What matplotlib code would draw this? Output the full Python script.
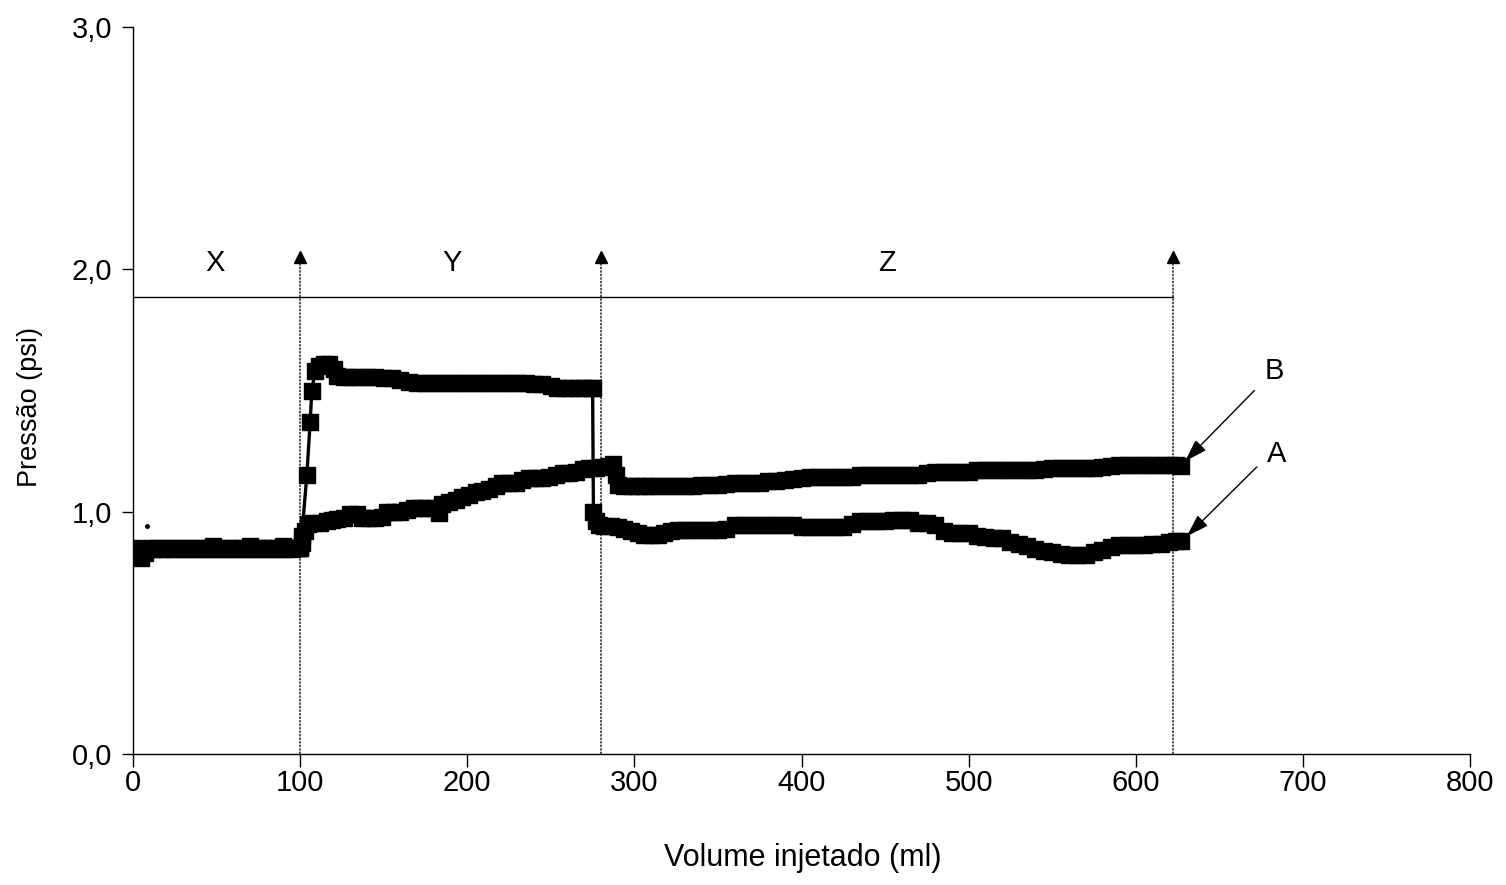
import matplotlib
matplotlib.use("Agg")
import matplotlib.pyplot as plt

plt.rcParams['font.family'] = ['Liberation Sans', 'DejaVu Sans']

# ---------------- data ----------------
# Series A (upper plateau in Y, lower curve in Z)
xa = [0, 3, 5, 7, 10, 15, 20, 25, 30, 35, 40, 45, 48, 52, 57, 62, 66, 70, 74, 78, 82, 86, 90, 94, 98, 100,
      101, 104, 106, 107, 109, 111, 114, 117, 120, 122, 126, 130, 135, 140, 145, 150, 155, 160, 165, 170,
      175, 180, 185, 190, 195, 200, 205, 210, 215, 220, 225, 230, 235, 240, 245, 250, 254, 258, 262, 266,
      270, 274, 275, 275.5, 277, 279, 282, 286, 290, 294, 298, 302, 306, 310, 314, 318, 322, 326, 330, 335,
      340, 345, 350, 355, 360, 365, 370, 375, 380, 385, 390, 395, 400, 405, 410, 415, 420, 425, 430, 435,
      440, 445, 450, 455, 460, 465, 470, 475, 480, 485, 490, 495, 500, 505, 510, 515, 520, 525, 530, 535,
      540, 545, 550, 555, 560, 565, 570, 575, 580, 585, 590, 595, 600, 605, 610, 615, 620, 624, 627]
ya = [0.85, 0.84, 0.81, 0.83, 0.85, 0.85, 0.85, 0.85, 0.85, 0.85, 0.85, 0.85, 0.86, 0.85, 0.85, 0.85, 0.85,
      0.86, 0.85, 0.85, 0.85, 0.85, 0.86, 0.85, 0.85, 0.85,
      0.90, 1.15, 1.37, 1.50, 1.58, 1.60, 1.61, 1.61, 1.59, 1.56, 1.555, 1.555, 1.555, 1.555, 1.555, 1.55,
      1.55, 1.545, 1.535, 1.53, 1.53, 1.53, 1.53, 1.53, 1.53, 1.53, 1.53, 1.53, 1.53, 1.53, 1.53, 1.53,
      1.53, 1.525, 1.525, 1.52, 1.51, 1.51, 1.51, 1.51, 1.51, 1.51, 1.51, 1.00, 0.96, 0.945, 0.94, 0.94,
      0.935, 0.93, 0.92, 0.91, 0.905, 0.905, 0.905, 0.91, 0.92, 0.926, 0.926, 0.926, 0.926, 0.926, 0.926,
      0.93, 0.945, 0.946, 0.946, 0.946, 0.946, 0.946, 0.946, 0.946, 0.935, 0.935, 0.935, 0.935, 0.935,
      0.935, 0.95, 0.962, 0.963, 0.963, 0.963, 0.965, 0.967, 0.967, 0.955, 0.952, 0.945, 0.92, 0.913,
      0.913, 0.91, 0.90, 0.895, 0.893, 0.89, 0.875, 0.868, 0.86, 0.845, 0.838, 0.835, 0.825, 0.82, 0.82,
      0.82, 0.835, 0.84, 0.855, 0.864, 0.864, 0.864, 0.864, 0.866, 0.866, 0.875, 0.88, 0.88]

# Series B (lower, rising curve in Y, upper curve in Z)
xb = [0, 4, 8, 12, 16, 20, 25, 30, 35, 40, 45, 50, 55, 60, 65, 70, 75, 80, 85, 90, 95, 100,
      101, 103, 105, 108, 112, 116, 119, 122, 126, 130, 134, 137, 141, 145, 149, 152, 156, 160, 164, 168,
      172, 176, 180, 183, 185, 189, 193, 197, 201, 205, 209, 213, 217, 221, 225, 229, 233, 237, 241, 245,
      249, 253, 257, 261, 265, 269, 273, 277, 281, 285, 287, 289, 290, 294, 298, 302, 306, 310, 315, 320,
      325, 330, 335, 340, 345, 350, 355, 360, 365, 370, 375, 380, 385, 390, 395, 400, 405, 410, 415, 420,
      425, 430, 435, 440, 445, 450, 455, 460, 465, 470, 475, 480, 485, 490, 495, 500, 505, 510, 515, 520,
      525, 530, 535, 540, 545, 550, 555, 560, 565, 570, 575, 580, 585, 590, 595, 600, 605, 610, 615, 620,
      624, 627]
yb = [0.845, 0.84, 0.845, 0.845, 0.845, 0.845, 0.845, 0.845, 0.845, 0.845, 0.845, 0.845, 0.845, 0.845,
      0.845, 0.845, 0.845, 0.845, 0.845, 0.845, 0.845, 0.85,
      0.87, 0.92, 0.95, 0.955, 0.955, 0.96, 0.965, 0.97, 0.975, 0.99, 0.99, 0.975, 0.975, 0.975, 0.98,
      1.0, 1.0, 1.0, 1.005, 1.014, 1.014, 1.014, 1.014, 0.995, 1.03, 1.04, 1.05, 1.06, 1.07, 1.08, 1.085,
      1.095, 1.105, 1.118, 1.118, 1.12, 1.13, 1.14, 1.14, 1.14, 1.145, 1.15, 1.16, 1.16, 1.165, 1.175,
      1.18, 1.18, 1.185, 1.19, 1.195, 1.15, 1.11, 1.107, 1.107, 1.107, 1.107, 1.107, 1.107, 1.107, 1.107,
      1.107, 1.107, 1.11, 1.11, 1.11, 1.115, 1.12, 1.12, 1.12, 1.12, 1.125, 1.125, 1.13, 1.135, 1.14,
      1.143, 1.143, 1.143, 1.143, 1.143, 1.145, 1.15, 1.15, 1.15, 1.15, 1.151, 1.151, 1.151, 1.151, 1.158,
      1.163, 1.163, 1.163, 1.163, 1.165, 1.17, 1.17, 1.17, 1.17, 1.17, 1.17, 1.17, 1.172, 1.175, 1.18,
      1.18, 1.18, 1.18, 1.18, 1.18, 1.185, 1.19, 1.192, 1.192, 1.192, 1.192, 1.192, 1.192, 1.192, 1.192,
      1.19]

stray_x = [8.4]
stray_y = [0.94]

x_ticks = [0, 100, 200, 300, 400, 500, 600, 700, 800]
y_ticks = [0.0, 1.0, 2.0, 3.0]
y_tick_labels = ["0,0", "1,0", "2,0", "3,0"]

boundaries = [100, 280, 622]          # vertical arrows separating the stages
stage_line_y = 1.885                  # horizontal line
arrow_top = 2.05
stage_names = ["X", "Y", "Z"]
stage_label_x = [49, 191, 451]
stage_label_y = 2.025

# ---------------- figure ----------------
fig = plt.figure(figsize=(15.06, 8.85), dpi=100)
ax = fig.add_axes([133 / 1506, 1 - 754 / 885, (1470 - 133) / 1506, (754 - 27) / 885])

line_kw = dict(color="black", lw=2.4, marker="s", ms=11, mec="black", mfc="black", solid_joinstyle="miter")
ax.plot(xa, ya, **line_kw, zorder=3)
ax.plot(xb, yb, **line_kw, zorder=3)
ax.plot(stray_x, stray_y, "o", color="black", ms=2.5, zorder=3)

# stage boundaries
for bx in boundaries:
    ax.plot([bx, bx], [0, arrow_top], color="#222222", lw=1.1, ls=(0, (1.5, 0.8)), zorder=2)
    ax.plot([bx], [arrow_top], marker="^", ms=9, color="black", zorder=4, clip_on=False)
ax.plot([0, boundaries[-1]], [stage_line_y, stage_line_y], color="black", lw=1.0, zorder=2)
for name, sx in zip(stage_names, stage_label_x):
    ax.text(sx, stage_label_y, name, fontsize=21, ha="center", va="center")

# series labels with arrows
arrow_kw = dict(arrowstyle="-|>,head_length=1.0,head_width=0.32", color="black", lw=1.0,
                shrinkA=0, shrinkB=0, mutation_scale=14)
ax.text(683, 1.58, "B", fontsize=21, ha="center", va="center")
ax.annotate("", xy=(629.5, 1.208), xytext=(671, 1.50), arrowprops=arrow_kw)
ax.text(684, 1.24, "A", fontsize=21, ha="center", va="center")
ax.annotate("", xy=(630.5, 0.898), xytext=(672.5, 1.185), arrowprops=arrow_kw)

# axes styling
ax.set_xlim(0, 800)
ax.set_ylim(0, 3)
ax.set_xticks(x_ticks)
ax.set_xticklabels([str(t) for t in x_ticks])
ax.set_yticks(y_ticks)
ax.set_yticklabels(y_tick_labels)
for s in ("top", "right"):
    ax.spines[s].set_visible(False)
for s in ("left", "bottom"):
    ax.spines[s].set_linewidth(1.0)
    ax.spines[s].set_color("black")
ax.tick_params(axis="x", direction="out", length=9, width=1, pad=1.5, labelsize=21)
ax.tick_params(axis="y", direction="out", length=8, width=1, pad=7, labelsize=21)

ax.set_xlabel("Volume injetado (ml)", fontsize=22, va="center")
ax.xaxis.set_label_coords(0.501, -0.143)
ax.set_ylabel("Pressão (psi)", fontsize=19.5, va="center")
ax.yaxis.set_label_coords(-0.077, 0.477)

fig.savefig("out.png", dpi=100)
